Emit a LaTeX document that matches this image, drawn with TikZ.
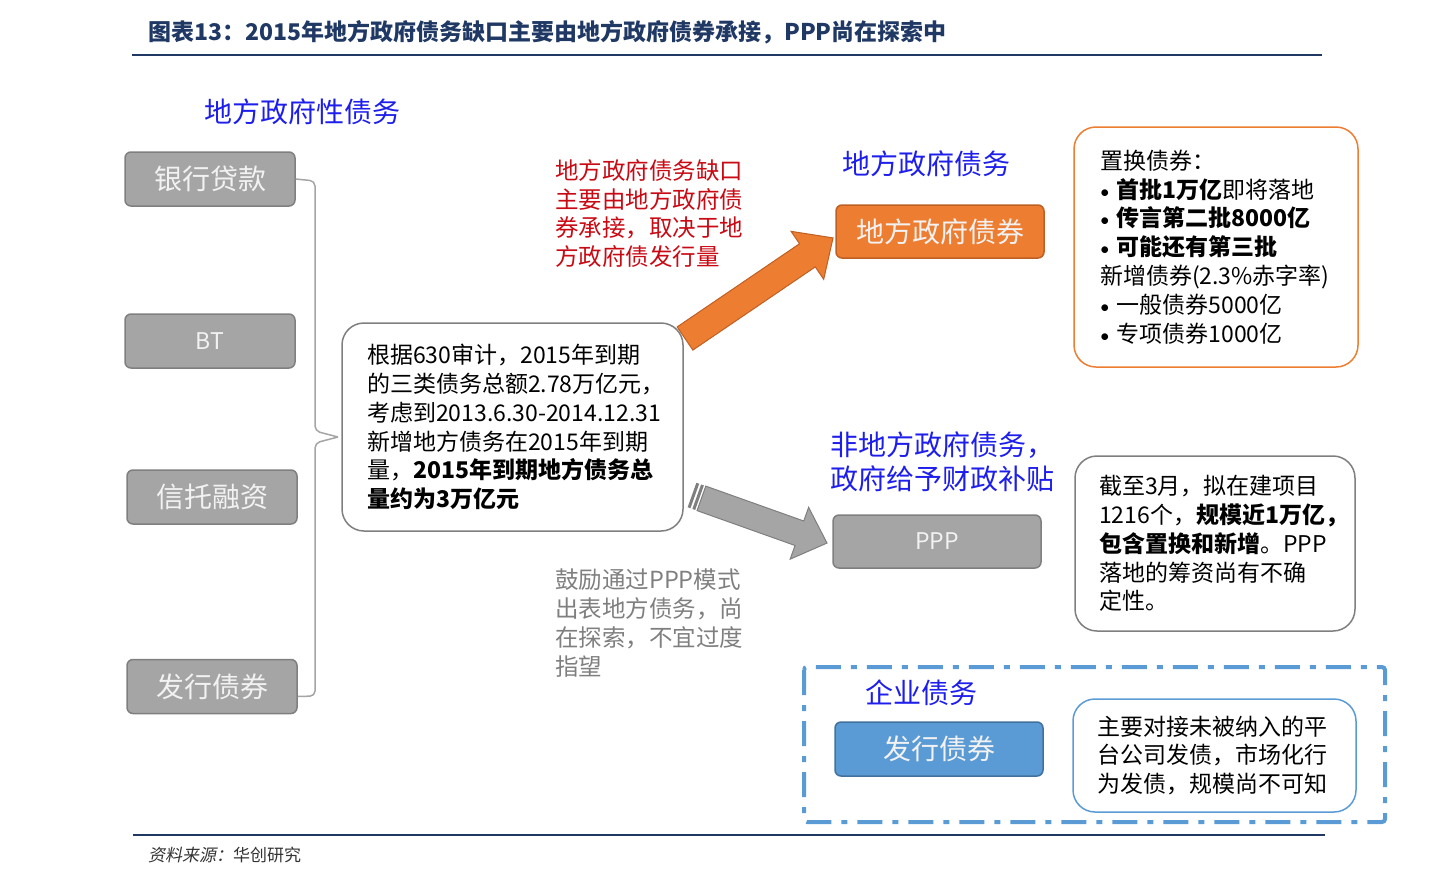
\documentclass[tikz,border=0pt]{standalone}
\usepackage{fontspec}
\setmainfont{Noto Sans CJK SC}
\newfontfamily\slantfont[FakeSlant=0.2]{Noto Sans CJK SC}
\newfontfamily\dotfont{Carlito}
\usetikzlibrary{decorations.pathreplacing}

\definecolor{navy}{RGB}{31,56,100}
\definecolor{hblue}{RGB}{30,30,235}
\definecolor{dred}{RGB}{200,10,20}
\definecolor{boxgray}{RGB}{165,165,165}
\definecolor{edgegray}{RGB}{127,127,127}
\definecolor{lorange}{RGB}{237,125,49}
\definecolor{dorange}{RGB}{190,95,35}
\definecolor{lblue}{RGB}{91,155,213}
\definecolor{dblue}{RGB}{65,113,156}

\newcommand{\fs}[2]{\fontsize{#1}{#2}\selectfont}
\newcommand{\bul}{{\dotfont\fs{19}{20}\textbullet}\hspace{7pt}}

\begin{document}
\begin{tikzpicture}[x=1pt, y=-1pt,
    gbox/.style={draw=edgegray, fill=boxgray, rounded corners=6pt, line width=1.5pt, text=white!95!black, font=\fs{28}{34}, minimum width=170pt, minimum height=54pt, inner sep=0},
    cbox/.style={draw, rounded corners=22pt, line width=1.5pt, fill=white, align=left, font=\fs{23}{28.8}, inner ysep=0, inner xsep=25pt},
    heading/.style={text=hblue, font=\fs{28}{34}},
    note/.style={align=left, font=\fs{23.5}{28.8}, inner sep=0, anchor=west}]

    \useasboundingbox (0,0) rectangle (1440,884);

    \node[anchor=west, inner sep=0, text=navy, font=\fs{23}{28}\bfseries] (title) at (148,32) {图表13：2015年地方政府债务缺口主要由地方政府债券承接，PPP尚在探索中};
    \draw[navy, line width=1.5pt] (132,55) -- (1322,55);
    \draw[navy, line width=1.5pt] (133,835) -- (1325,835);
    \node[anchor=west, inner sep=0, text=black!80, font=\fs{17}{20}] (source) at (148,855) {{\slantfont 资料来源：}华创研究};

    \node[heading] (lgdebt) at (302,112) {地方政府性债务};

    \node[gbox] (bank) at (210,179) {银行贷款};
    \node[gbox, font=\fs{23}{28}] (bt) at (210,341) {BT};
    \node[gbox] (trust) at (212,497) {信托融资};
    \node[gbox] (issue) at (212,686.5) {发行债券};

    \coordinate (tip) at (338,437);
    \draw[boxgray, line width=1.5pt, rounded corners=5pt] (bank.east) -- (315,181) -- (315,431) -- (tip);
    \draw[boxgray, line width=1.5pt, rounded corners=5pt] (tip) -- (315,443) -- (315,696) -- ([yshift=-10pt]issue.east);

    \node[cbox, draw=edgegray, text width=291pt, minimum height=208pt] (audit) at (512.5,427) {根据630审计，2015年到期\\的三类债务总额2.78万亿元，\\\mbox{考虑到2013.6.30-2014.12.31}\\新增地方债务在2015年到期\\量，\textbf{2015年到期地方债务总}\\\textbf{量约为3万亿元}};

    \node[note, text=dred] (gap) at (555,213.5) {地方政府债务缺口\\主要由地方政府债\\券承接，取决于地\\方政府债发行量};

    \begin{scope}[shift={(685,338.5)}, rotate=34.2]
        \draw[fill=lorange, draw=dorange, line width=1pt] (0,-14) -- (148,-14) -- (148,-29) -- (179,0) -- (148,29) -- (148,14) -- (0,14) -- cycle;
    \end{scope}

    \node[heading] (lgb-head) at (926,164) {地方政府债务};
    \node[gbox, draw=dorange, fill=lorange, minimum width=208pt, minimum height=53pt] (lgb) at (940,231.5) {地方政府债券};

    \node[cbox, draw=lorange, text width=232pt, minimum height=240pt, inner xsep=26pt] (swap) at (1216,247) {置换债券：\\\bul\textbf{首批1万亿}即将落地\\\bul\textbf{传言第二批8000亿}\\\bul\textbf{可能还有第三批}\\新增债券(2.3\%赤字率)\\\bul 一般债券5000亿\\\bul 专项债券1000亿};

    \node[heading, anchor=west, align=left, inner sep=0] (nonlg) at (830,462) {非地方政府债务，\\政府给予财政补贴};

    \begin{scope}[shift={(692,495)}, rotate=-19.6]
        \draw[fill=boxgray, draw=edgegray, line width=1pt] (10,-13) -- (114,-13) -- (114,-27.5) -- (143.3,0) -- (114,27.5) -- (114,13) -- (10,13) -- cycle;
        \fill[edgegray] (0,-13) rectangle (3,13);
        \fill[edgegray] (5,-13) rectangle (8,13);
    \end{scope}

    \node[gbox, font=\fs{23}{28}, minimum width=208pt, minimum height=53pt] (ppp) at (937,541.5) {PPP};

    \node[cbox, draw=edgegray, text width=232pt, minimum height=175pt, inner xsep=24pt] (proj) at (1215,543.5) {截至3月，拟在建项目\\1216个，\textbf{规模近1万亿，}\\\textbf{包含置换和新增}。PPP\\落地的筹资尚有不确\\定性。};

    \node[note, text=edgegray] (encourage) at (555,623) {鼓励通过PPP模式\\出表地方债务，尚\\在探索，不宜过度\\指望};

    \draw[lblue, line width=4pt, dash pattern=on 25pt off 10pt on 6pt off 10pt, rounded corners=3pt] (804,667) rectangle (1385,822);

    \node[heading] (corp-head) at (921,693) {企业债务};
    \node[gbox, draw=dblue, fill=lblue, minimum width=208pt, minimum height=54pt] (corp) at (939,749) {发行债券};

    \node[cbox, draw=lblue, text width=235pt, minimum height=113pt, inner xsep=24pt] (plat) at (1214.5,755.5) {主要对接未被纳入的平\\台公司发债，市场化行\\为发债，规模尚不可知};
\end{tikzpicture}
\end{document}
